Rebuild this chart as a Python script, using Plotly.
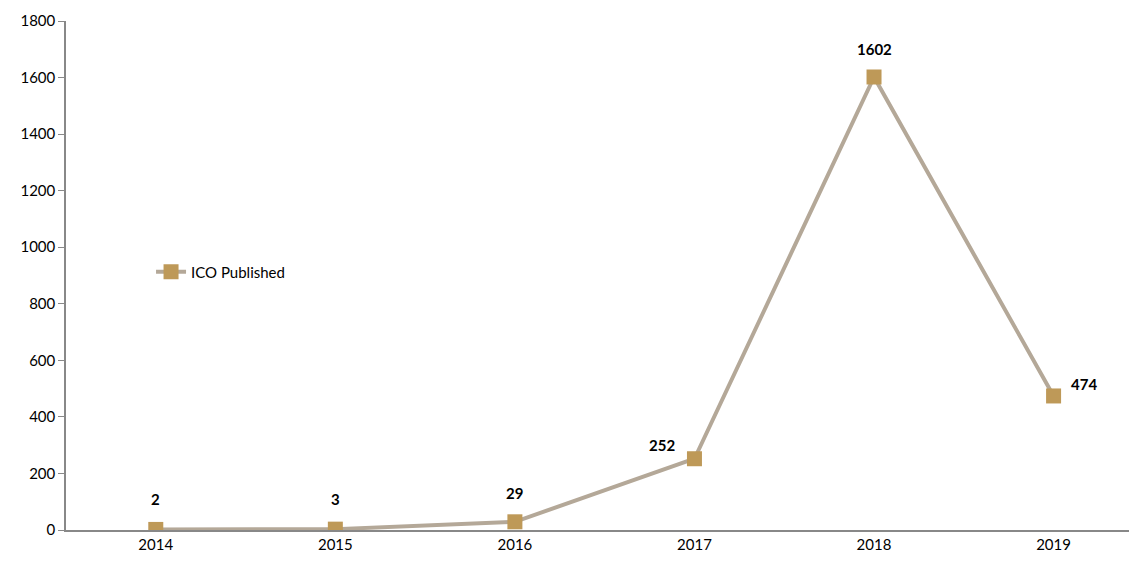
import plotly.graph_objects as go

years = ["2014", "2015", "2016", "2017", "2018", "2019"]
ico_published = [2, 3, 29, 252, 1602, 474]
series_name = "ICO Published"
y_ticks = [0, 200, 400, 600, 800, 1000, 1200, 1400, 1600, 1800]

font_family = "Lato, Open Sans, Liberation Sans, Arial, sans-serif"

fig = go.Figure()
fig.add_trace(go.Scatter(
    x=list(range(len(years))), y=ico_published, name=series_name,
    mode="lines+markers",
    line=dict(color="#B4A898", width=4),
    marker=dict(symbol="square", size=15, color="#BE9958"),
    showlegend=True,
))

# label offsets (pixels)
shifts = [(0, 30), (0, 30), (0, 29), (-32, 14), (0, 28), (30, 12)]
for i, (v, (dx, dy)) in enumerate(zip(ico_published, shifts)):
    fig.add_annotation(x=i, y=v, text=f"<b>{v}</b>", showarrow=False,
                       xshift=dx, yshift=dy,
                       font=dict(size=15, color="black", family=font_family))

fig.update_layout(
    width=1129, height=563,
    margin=dict(l=66, r=0, t=21, b=33, autoexpand=False),
    plot_bgcolor="white", paper_bgcolor="white",
    font=dict(family=font_family, size=15, color="black"),
    legend=dict(x=0.08, y=0.507, xanchor="left", yanchor="middle",
                bgcolor="rgba(0,0,0,0)", font=dict(size=15)),
    xaxis=dict(
        tickmode="array", tickvals=list(range(len(years))), ticktext=years,
        range=[-0.5, 5.42], showgrid=False, zeroline=False,
        showline=True, linecolor="#888888", linewidth=1.5,
        ticks="", tickfont=dict(size=15),
    ),
    yaxis=dict(
        range=[0, 1800], tickvals=y_ticks, showgrid=False, zeroline=False,
        showline=True, linecolor="#888888", linewidth=1.5,
        ticks="outside", ticklen=6, tickcolor="#888888",
        tickfont=dict(size=15),
    ),
)

fig.write_html("out.html")
